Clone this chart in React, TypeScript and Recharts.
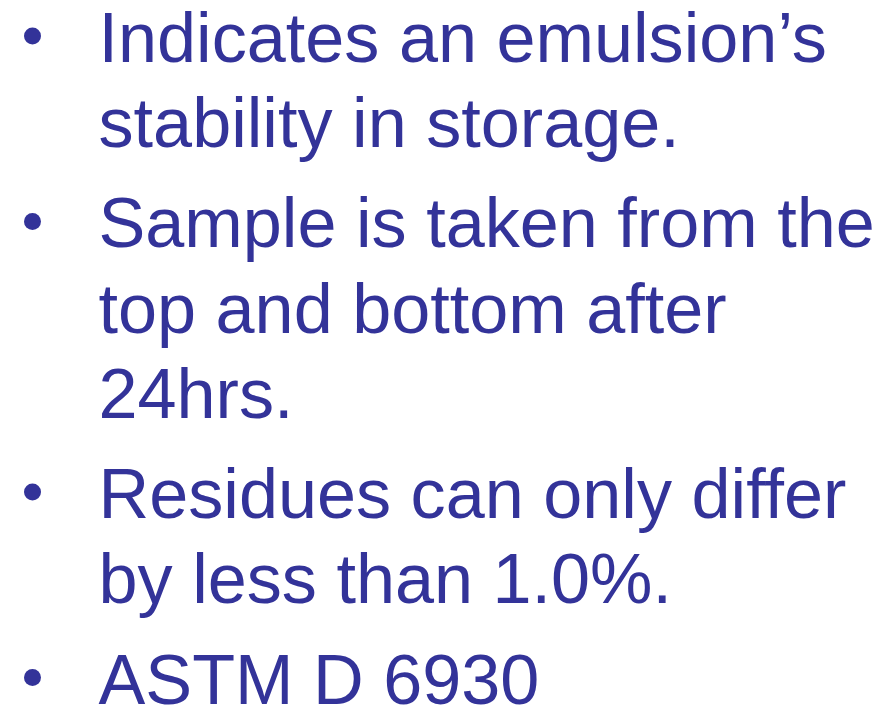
import React from "react";
import { ScatterChart, Scatter, XAxis, YAxis } from "recharts";

// Slide content: each bullet is a paragraph of wrapped lines
const bullet1: string[] = ["Indicates an emulsion\u2019s", "stability in storage."];
const bullet2: string[] = ["Sample is taken from the", "top and bottom after", "24hrs."];
const bullet3: string[] = ["Residues can only differ", "by less than 1.0%."];
const bullet4: string[] = ["ASTM D 6930"];
const bullets: string[][] = [bullet1, bullet2, bullet3, bullet4];

const W = 894;
const H = 706;
const TEXT_X = 98.5;
const BULLET_X = 32.5;
const FIRST_BASELINE = 62;
const LINE_STEP = 85.3;
const PARA_GAP = 14.8;
const COLOR = "#333399";
const FONT_SIZE = 70.2;

type Row = { x: number; y: number; text: string; first: boolean };

const rows: Row[] = [];
{
  let y = FIRST_BASELINE;
  bullets.forEach((para, pi) => {
    if (pi > 0) y += PARA_GAP;
    para.forEach((line, li) => {
      rows.push({ x: TEXT_X, y, text: line, first: li === 0 });
      y += LINE_STEP;
    });
  });
}
const textRows = rows;
const bulletRows = rows.filter((r) => r.first).map((r) => ({ ...r, x: BULLET_X }));

const TextShape = (props: any) => {
  const { cx, cy, payload } = props;
  return (
    <text
      x={cx}
      y={cy}
      fill={COLOR}
      fontFamily="'Liberation Sans', Arial, sans-serif"
      fontSize={FONT_SIZE}
    >
      {payload.text}
    </text>
  );
};

const BulletShape = (props: any) => {
  const { cx, cy } = props;
  return <circle cx={cx} cy={cy - 26} r={8.5} fill={COLOR} />;
};

export default function App() {
  return (
    <div style={{ position: "fixed", left: 0, top: 0, width: W, height: H, background: "#fff" }}>
      <ScatterChart width={W} height={H} margin={{ top: 0, right: 0, bottom: 0, left: 0 }}>
        <XAxis type="number" dataKey="x" domain={[0, W]} allowDataOverflow hide />
        <YAxis type="number" dataKey="y" domain={[0, H]} allowDataOverflow reversed hide />
        <Scatter data={textRows} shape={<TextShape />} isAnimationActive={false} />
        <Scatter data={bulletRows} shape={<BulletShape />} isAnimationActive={false} />
      </ScatterChart>
    </div>
  );
}
